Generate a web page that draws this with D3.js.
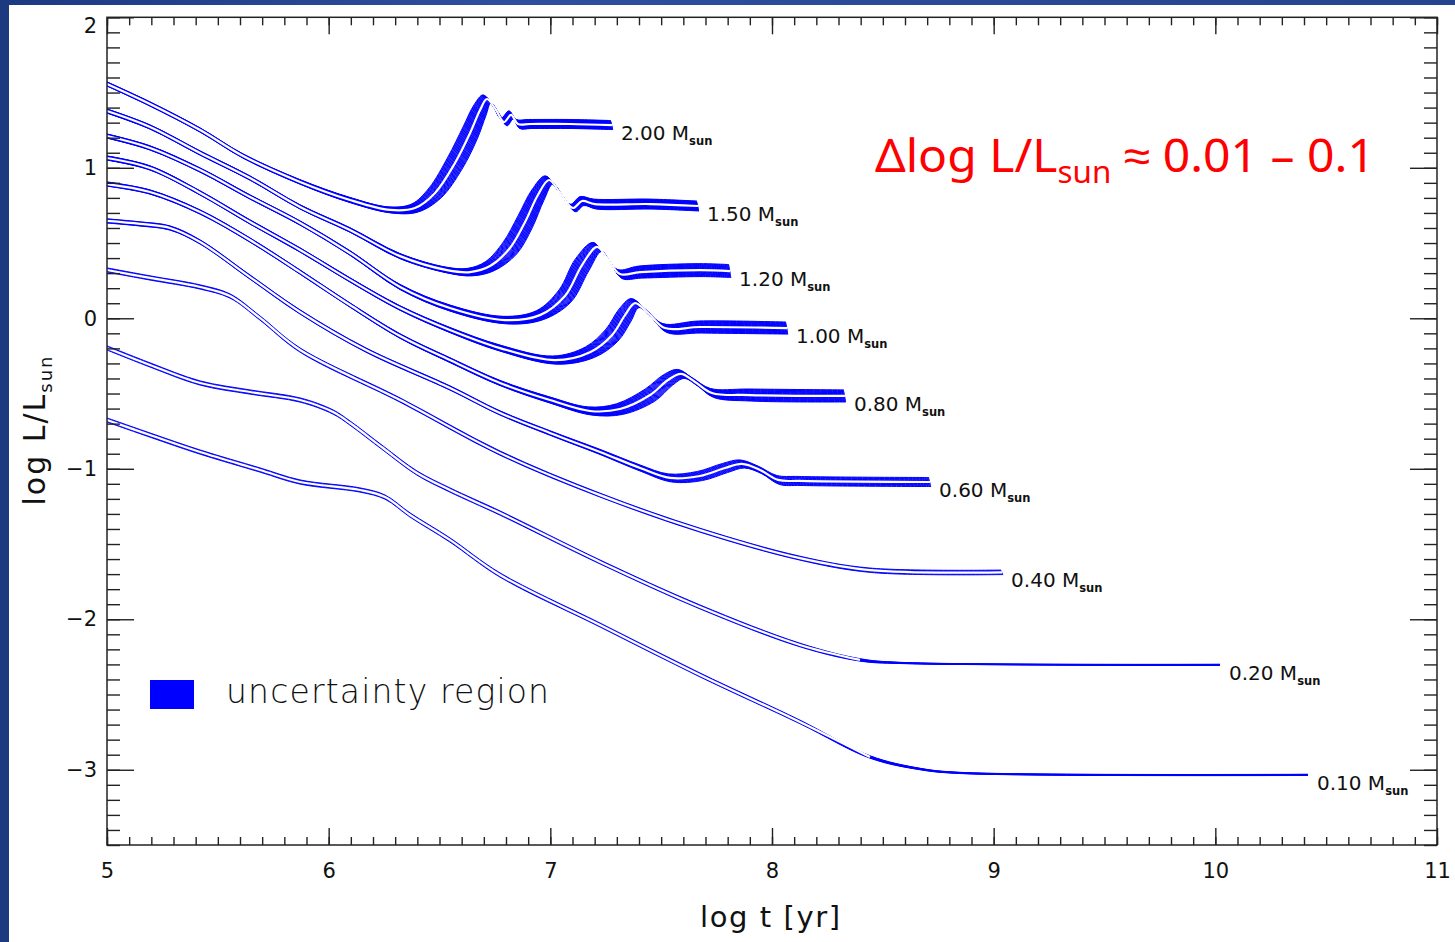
<!DOCTYPE html>
<html>
<head>
<meta charset="utf-8">
<script src="https://cdn.jsdelivr.net/npm/d3@7"></script>
<style>
  html, body { margin: 0; padding: 0; background: #fff; }
  svg { display: block; }
</style>
</head>
<body>
<svg id="chart" width="1455" height="942"></svg>
<script>
// Pre-main-sequence luminosity evolution, log L/Lsun vs log t [yr].
// Each track point: [log t, log L, half-width in log L, half-width in log t]
const masses = ["2.00", "1.50", "1.20", "1.00", "0.80", "0.60", "0.40", "0.20", "0.10"];

const track200 = [
  [5.000, 1.557, 0.014, 0], [5.194, 1.424, 0.014, 0], [5.420, 1.251, 0.014, 0],
  [5.614, 1.078, 0.014, 0], [5.871, 0.906, 0.015, 0], [6.096, 0.786, 0.017, 0],
  [6.277, 0.720, 0.020, 0.005], [6.389, 0.733, 0.027, 0.014], [6.480, 0.833, 0.033, 0.027],
  [6.570, 1.032, 0.040, 0.032], [6.638, 1.231, 0.040, 0.032], [6.683, 1.384, 0.035, 0.027],
  [6.714, 1.457, 0.027, 0.018], [6.755, 1.384, 0.025, 0.014], [6.791, 1.304, 0.025, 0.014],
  [6.823, 1.351, 0.027, 0.010], [6.854, 1.291, 0.030, 0.008], [6.908, 1.291, 0.030, 0.006],
  [7.089, 1.291, 0.030, 0.005], [7.278, 1.284, 0.030, 0.005]
];
const track150 = [
  [5.000, 1.377, 0.014, 0], [5.194, 1.271, 0.014, 0], [5.420, 1.098, 0.014, 0],
  [5.645, 0.932, 0.014, 0], [5.871, 0.740, 0.014, 0], [6.096, 0.587, 0.015, 0],
  [6.322, 0.413, 0.017, 0], [6.534, 0.320, 0.020, 0.005], [6.638, 0.307, 0.025, 0.010],
  [6.728, 0.347, 0.030, 0.020], [6.818, 0.467, 0.040, 0.030], [6.886, 0.640, 0.040, 0.032],
  [6.944, 0.819, 0.035, 0.027], [6.994, 0.919, 0.027, 0.018], [7.044, 0.833, 0.025, 0.014],
  [7.102, 0.733, 0.025, 0.012], [7.143, 0.779, 0.030, 0.008], [7.201, 0.759, 0.033, 0.006],
  [7.450, 0.759, 0.033, 0.005], [7.666, 0.746, 0.033, 0.005]
];
const track120 = [
  [5.000, 1.211, 0.014, 0], [5.194, 1.132, 0.014, 0], [5.420, 0.985, 0.014, 0],
  [5.645, 0.806, 0.014, 0], [5.871, 0.633, 0.014, 0], [6.096, 0.434, 0.015, 0],
  [6.322, 0.208, 0.017, 0], [6.547, 0.068, 0.020, 0], [6.795, -0.012, 0.025, 0.008],
  [6.953, 0.021, 0.030, 0.015], [7.066, 0.148, 0.040, 0.027], [7.143, 0.354, 0.040, 0.030],
  [7.211, 0.474, 0.030, 0.020], [7.256, 0.401, 0.027, 0.014], [7.314, 0.294, 0.030, 0.010],
  [7.405, 0.307, 0.040, 0.006], [7.675, 0.320, 0.043, 0.005], [7.811, 0.314, 0.043, 0.005]
];
const track100 = [
  [5.000, 1.065, 0.014, 0], [5.194, 0.999, 0.014, 0], [5.420, 0.833, 0.014, 0],
  [5.645, 0.640, 0.014, 0], [5.871, 0.454, 0.014, 0], [6.096, 0.255, 0.014, 0],
  [6.322, 0.068, 0.015, 0], [6.547, -0.078, 0.017, 0], [6.773, -0.198, 0.020, 0],
  [7.021, -0.278, 0.027, 0.010], [7.179, -0.225, 0.035, 0.020], [7.278, -0.112, 0.040, 0.027],
  [7.337, 0.021, 0.040, 0.027], [7.382, 0.101, 0.030, 0.018], [7.441, 0.035, 0.025, 0.012],
  [7.517, -0.065, 0.030, 0.010], [7.675, -0.058, 0.040, 0.006], [8.068, -0.065, 0.040, 0.005]
];
const track080 = [
  [5.000, 0.892, 0.014, 0], [5.194, 0.839, 0.014, 0], [5.420, 0.706, 0.014, 0],
  [5.645, 0.520, 0.014, 0], [5.871, 0.307, 0.014, 0], [6.096, 0.088, 0.014, 0],
  [6.322, -0.118, 0.015, 0], [6.547, -0.278, 0.016, 0], [6.773, -0.430, 0.017, 0],
  [6.998, -0.543, 0.020, 0], [7.179, -0.616, 0.027, 0.008], [7.314, -0.603, 0.035, 0.015],
  [7.450, -0.510, 0.040, 0.022], [7.531, -0.410, 0.035, 0.020], [7.589, -0.370, 0.030, 0.015],
  [7.653, -0.423, 0.025, 0.010], [7.729, -0.496, 0.030, 0.008], [7.901, -0.510, 0.040, 0.005],
  [8.329, -0.516, 0.040, 0.005]
];
const track060 = [
  [5.000, 0.647, 0.014, 0], [5.149, 0.627, 0.014, 0], [5.284, 0.600, 0.014, 0],
  [5.420, 0.507, 0.014, 0], [5.645, 0.274, 0.014, 0], [5.871, 0.042, 0.014, 0],
  [6.168, -0.211, 0.014, 0], [6.547, -0.463, 0.014, 0], [6.773, -0.629, 0.014, 0],
  [6.998, -0.762, 0.015, 0], [7.224, -0.888, 0.017, 0], [7.405, -0.995, 0.020, 0],
  [7.540, -1.061, 0.027, 0.008], [7.675, -1.048, 0.030, 0.012], [7.788, -0.995, 0.030, 0.012],
  [7.865, -0.968, 0.027, 0.010], [7.946, -1.008, 0.025, 0.008], [8.027, -1.074, 0.030, 0.006],
  [8.126, -1.081, 0.030, 0.005], [8.713, -1.088, 0.030, 0.005]
];
const track040 = [
  [5.000, 0.321, 0.014, 0], [5.194, 0.268, 0.014, 0], [5.420, 0.208, 0.014, 0],
  [5.555, 0.148, 0.014, 0], [5.690, 0.002, 0.014, 0], [5.871, -0.211, 0.014, 0],
  [6.322, -0.543, 0.014, 0], [6.773, -0.896, 0.014, 0], [7.224, -1.175, 0.013, 0],
  [7.675, -1.408, 0.013, 0], [8.126, -1.594, 0.013, 0], [8.442, -1.674, 0.015, 0.005],
  [9.038, -1.688, 0.015, 0.005]
];
const track020 = [
  [5.000, -0.197, 0.014, 0], [5.194, -0.310, 0.014, 0], [5.420, -0.430, 0.014, 0],
  [5.645, -0.490, 0.014, 0], [5.871, -0.543, 0.014, 0], [6.020, -0.623, 0.014, 0],
  [6.096, -0.696, 0.014, 0], [6.245, -0.862, 0.014, 0], [6.398, -1.028, 0.014, 0],
  [6.547, -1.141, 0.014, 0], [6.773, -1.294, 0.014, 0], [7.224, -1.619, 0.013, 0],
  [7.675, -1.918, 0.013, 0], [8.126, -2.171, 0.012, 0], [8.397, -2.270, 0.008, 0],
  [8.577, -2.290, 0.004, 0], [10.021, -2.303, 0.004, 0]
];
const track010 = [
  [5.000, -0.676, 0.014, 0], [5.194, -0.776, 0.014, 0], [5.420, -0.889, 0.014, 0],
  [5.690, -1.008, 0.014, 0], [5.871, -1.088, 0.014, 0], [6.141, -1.141, 0.014, 0],
  [6.254, -1.188, 0.014, 0], [6.367, -1.307, 0.014, 0], [6.547, -1.473, 0.014, 0],
  [6.773, -1.706, 0.014, 0], [7.224, -2.038, 0.013, 0], [7.675, -2.370, 0.013, 0],
  [8.126, -2.682, 0.012, 0], [8.442, -2.915, 0.008, 0], [8.668, -2.995, 0.005, 0],
  [8.848, -3.021, 0.004, 0], [10.418, -3.034, 0.004, 0]
];
const tracks = [track200, track150, track120, track100, track080, track060, track040, track020, track010];

const xTicks = [5, 6, 7, 8, 9, 10, 11];
const yTicks = [-3, -2, -1, 0, 1, 2];
const xTitle = "log t [yr]";
const yTitle = "log L/L";
const legendText = "uncertainty region";
const noteMain = "\u0394log L/L";
const noteRest = " \u2248 0.01 \u2013 0.1";

const svg = d3.select("#chart");
const W = 1455, H = 942;

// Slide frame: blue border strips with a white panel
const defs = svg.append("defs");
const grad = defs.append("linearGradient").attr("id", "frameGrad")
  .attr("x1", "0").attr("y1", "0").attr("x2", "1").attr("y2", "0");
grad.append("stop").attr("offset", "0%").attr("stop-color", "#1c3a82");
grad.append("stop").attr("offset", "35%").attr("stop-color", "#2e4f9e");
grad.append("stop").attr("offset", "100%").attr("stop-color", "#24448e");
svg.append("rect").attr("width", W).attr("height", H).attr("fill", "url(#frameGrad)");
svg.append("rect").attr("x", 0).attr("y", 0).attr("width", 9).attr("height", H).attr("fill", "#1d3a80");
svg.append("rect").attr("x", 9).attr("y", 5).attr("width", W - 9).attr("height", H - 5).attr("fill", "#fff");

const x = d3.scaleLinear().domain([5, 11]).range([107, 1437]);
const y = d3.scaleLinear().domain([-3.5, 2]).range([845, 17.3]);

const tickFont = "'DejaVu Sans', sans-serif";
const axisColor = "#222";

// Tracks: the uncertainty region is swept between the bright/early and faint/late bounds
const plot = svg.append("g");
const line = d3.line().curve(d3.curveCatmullRom.alpha(0.5));
const offPx = p => Math.hypot(x(p[0] + p[3]) - x(p[0]), y(p[1]) - y(p[1] + p[2]));

tracks.forEach(pts => {
  const maxOff = d3.max(pts, offPx);
  const n = Math.max(2, Math.ceil(2 * maxOff / 0.7) + 1);
  for (let i = 0; i < n; i++) {
    const f = -1 + 2 * i / (n - 1);
    plot.append("path")
      .attr("d", line(pts.map(p => [x(p[0] - f * p[3]), y(p[1] + f * p[2])])))
      .attr("fill", "none")
      .attr("stroke", "#0000ff")
      .attr("stroke-width", 1.0);
  }
  const seam = d3.line()
    .defined(p => offPx(p) > 1.2)
    .x(p => x(p[0])).y(p => y(p[1]))
    .curve(d3.curveCatmullRom.alpha(0.5));
  plot.append("path")
    .attr("d", seam(pts))
    .attr("fill", "none")
    .attr("stroke", "#fff")
    .attr("stroke-width", 2.2);
});

// Mass labels at the end of each track
tracks.forEach((pts, i) => {
  const last = pts[pts.length - 1];
  const t = plot.append("text")
    .attr("x", x(last[0]) + 9)
    .attr("y", y(last[1]) + 15)
    .attr("font-family", tickFont)
    .attr("font-size", 20)
    .attr("fill", "#111");
  t.append("tspan").text(masses[i] + " M");
  t.append("tspan").attr("dy", 5).attr("font-size", 11.5).attr("font-weight", "bold").text("sun");
});

// Axes: IDL-style box with major and minor ticks on all four sides
function styleAxis(g) {
  g.select(".domain").remove();
  g.selectAll("line").attr("stroke", axisColor).attr("stroke-width", 1.4);
  g.selectAll("text").attr("font-family", tickFont).attr("font-size", 21).attr("fill", "#111");
}
const minorX = d3.range(50, 111).map(v => v / 10);
const minorY = d3.range(-35, 21).map(v => v / 10);

svg.append("g").attr("transform", `translate(0,${y(-3.5)})`)
  .call(d3.axisBottom(x).tickValues(minorX).tickSize(-8).tickFormat(""))
  .call(styleAxis);
svg.append("g").attr("transform", `translate(0,${y(-3.5)})`)
  .call(d3.axisBottom(x).tickValues(xTicks).tickSize(-17).tickPadding(18).tickFormat(d3.format("d")))
  .call(styleAxis);
svg.append("g").attr("transform", `translate(0,${y(2)})`)
  .call(d3.axisTop(x).tickValues(minorX).tickSize(-8).tickFormat(""))
  .call(styleAxis);
svg.append("g").attr("transform", `translate(0,${y(2)})`)
  .call(d3.axisTop(x).tickValues(xTicks).tickSize(-17).tickFormat(""))
  .call(styleAxis);

svg.append("g").attr("transform", `translate(${x(5)},0)`)
  .call(d3.axisLeft(y).tickValues(minorY).tickSize(-13).tickFormat(""))
  .call(styleAxis);
const yAx = svg.append("g").attr("transform", `translate(${x(5)},0)`)
  .call(d3.axisLeft(y).tickValues(yTicks).tickSize(-27).tickPadding(10)
    .tickFormat(d => d < 0 ? "\u2212" + Math.abs(d) : String(d)))
  .call(styleAxis);
yAx.selectAll(".tick text").filter(d => d === 2).attr("y", 8);

svg.append("g").attr("transform", `translate(${x(11)},0)`)
  .call(d3.axisRight(y).tickValues(minorY).tickSize(-13).tickFormat(""))
  .call(styleAxis);
svg.append("g").attr("transform", `translate(${x(11)},0)`)
  .call(d3.axisRight(y).tickValues(yTicks).tickSize(-27).tickFormat(""))
  .call(styleAxis);

svg.append("rect")
  .attr("x", x(5)).attr("y", y(2))
  .attr("width", x(11) - x(5)).attr("height", y(-3.5) - y(2))
  .attr("fill", "none").attr("stroke", axisColor).attr("stroke-width", 1.5);

// Axis titles
svg.append("text")
  .attr("x", 700).attr("y", 927)
  .attr("font-family", tickFont).attr("font-size", 29)
  .attr("textLength", 140).attr("lengthAdjust", "spacing")
  .attr("fill", "#111")
  .text(xTitle);

const yt = svg.append("text")
  .attr("transform", "translate(45,430) rotate(-90)")
  .attr("text-anchor", "middle")
  .attr("font-family", tickFont).attr("font-size", 30)
  .attr("letter-spacing", 2)
  .attr("fill", "#111");
yt.append("tspan").text(yTitle);
yt.append("tspan").attr("dy", 7).attr("font-size", 18).text("sun");

// Legend
svg.append("rect").attr("x", 150).attr("y", 680).attr("width", 44).attr("height", 29).attr("fill", "#0000ff");
svg.append("text")
  .attr("x", 226).attr("y", 703)
  .attr("font-family", tickFont).attr("font-size", 33).attr("font-weight", 300)
  .attr("textLength", 323).attr("lengthAdjust", "spacing")
  .attr("fill", "#111")
  .text(legendText);

// Annotation on the size of the uncertainty
const note = svg.append("text")
  .attr("x", 875).attr("y", 172)
  .attr("font-family", "'Comic Sans MS', 'Noto Sans', sans-serif")
  .attr("font-size", 46)
  .attr("fill", "#ff0000");
note.append("tspan").text(noteMain);
note.append("tspan").attr("dy", 11).attr("font-size", 30).text("sun");
note.append("tspan").attr("dy", -11).text(noteRest);
note.attr("textLength", 500).attr("lengthAdjust", "spacingAndGlyphs");
</script>
</body>
</html>
